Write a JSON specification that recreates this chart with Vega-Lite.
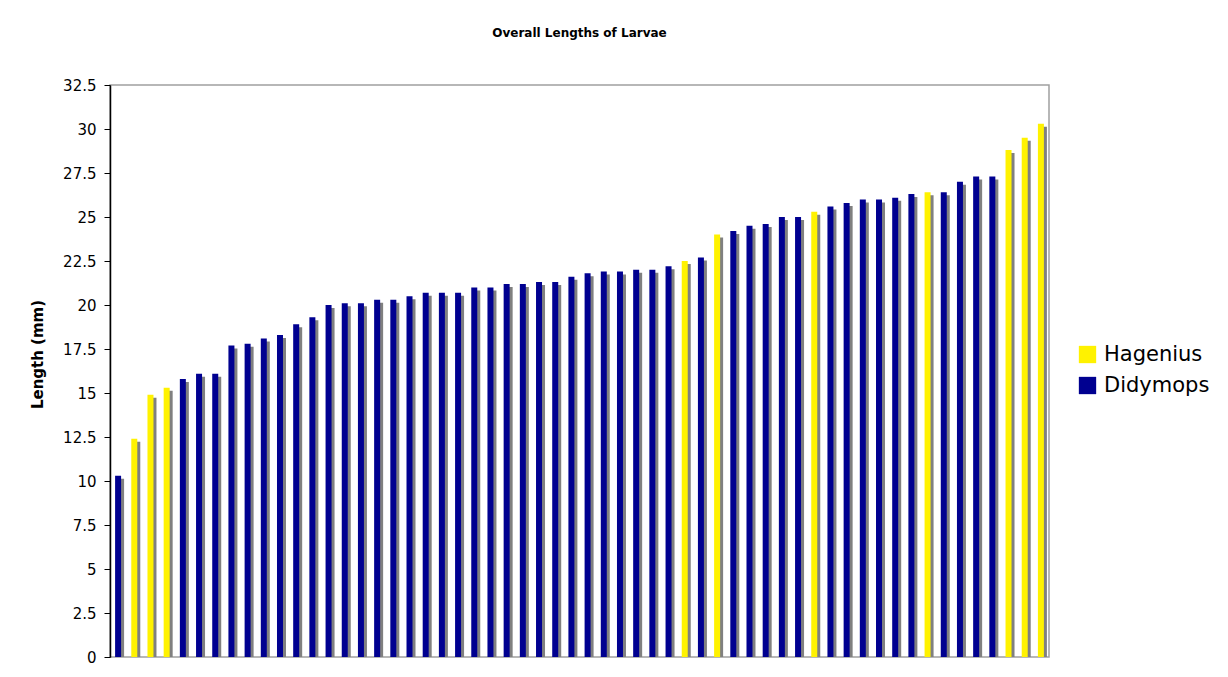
{
  "$schema": "https://vega.github.io/schema/vega-lite/v6.json",
  "autosize": {"type": "none"},
  "padding": {"left": 110, "top": 85, "right": 179, "bottom": 20},
  "width": 939,
  "height": 572,
  "background": "white",
  "title": {
    "text": "Overall Lengths of Larvae",
    "font": "DejaVu Sans",
    "fontSize": 12,
    "fontWeight": "bold",
    "color": "black",
    "anchor": "middle",
    "offset": 38
  },
  "data": {
    "values": [
      {"larva": 1, "length": 10.3, "genus": "Didymops"},
      {"larva": 2, "length": 12.4, "genus": "Hagenius"},
      {"larva": 3, "length": 14.9, "genus": "Hagenius"},
      {"larva": 4, "length": 15.3, "genus": "Hagenius"},
      {"larva": 5, "length": 15.8, "genus": "Didymops"},
      {"larva": 6, "length": 16.1, "genus": "Didymops"},
      {"larva": 7, "length": 16.1, "genus": "Didymops"},
      {"larva": 8, "length": 17.7, "genus": "Didymops"},
      {"larva": 9, "length": 17.8, "genus": "Didymops"},
      {"larva": 10, "length": 18.1, "genus": "Didymops"},
      {"larva": 11, "length": 18.3, "genus": "Didymops"},
      {"larva": 12, "length": 18.9, "genus": "Didymops"},
      {"larva": 13, "length": 19.3, "genus": "Didymops"},
      {"larva": 14, "length": 20.0, "genus": "Didymops"},
      {"larva": 15, "length": 20.1, "genus": "Didymops"},
      {"larva": 16, "length": 20.1, "genus": "Didymops"},
      {"larva": 17, "length": 20.3, "genus": "Didymops"},
      {"larva": 18, "length": 20.3, "genus": "Didymops"},
      {"larva": 19, "length": 20.5, "genus": "Didymops"},
      {"larva": 20, "length": 20.7, "genus": "Didymops"},
      {"larva": 21, "length": 20.7, "genus": "Didymops"},
      {"larva": 22, "length": 20.7, "genus": "Didymops"},
      {"larva": 23, "length": 21.0, "genus": "Didymops"},
      {"larva": 24, "length": 21.0, "genus": "Didymops"},
      {"larva": 25, "length": 21.2, "genus": "Didymops"},
      {"larva": 26, "length": 21.2, "genus": "Didymops"},
      {"larva": 27, "length": 21.3, "genus": "Didymops"},
      {"larva": 28, "length": 21.3, "genus": "Didymops"},
      {"larva": 29, "length": 21.6, "genus": "Didymops"},
      {"larva": 30, "length": 21.8, "genus": "Didymops"},
      {"larva": 31, "length": 21.9, "genus": "Didymops"},
      {"larva": 32, "length": 21.9, "genus": "Didymops"},
      {"larva": 33, "length": 22.0, "genus": "Didymops"},
      {"larva": 34, "length": 22.0, "genus": "Didymops"},
      {"larva": 35, "length": 22.2, "genus": "Didymops"},
      {"larva": 36, "length": 22.5, "genus": "Hagenius"},
      {"larva": 37, "length": 22.7, "genus": "Didymops"},
      {"larva": 38, "length": 24.0, "genus": "Hagenius"},
      {"larva": 39, "length": 24.2, "genus": "Didymops"},
      {"larva": 40, "length": 24.5, "genus": "Didymops"},
      {"larva": 41, "length": 24.6, "genus": "Didymops"},
      {"larva": 42, "length": 25.0, "genus": "Didymops"},
      {"larva": 43, "length": 25.0, "genus": "Didymops"},
      {"larva": 44, "length": 25.3, "genus": "Hagenius"},
      {"larva": 45, "length": 25.6, "genus": "Didymops"},
      {"larva": 46, "length": 25.8, "genus": "Didymops"},
      {"larva": 47, "length": 26.0, "genus": "Didymops"},
      {"larva": 48, "length": 26.0, "genus": "Didymops"},
      {"larva": 49, "length": 26.1, "genus": "Didymops"},
      {"larva": 50, "length": 26.3, "genus": "Didymops"},
      {"larva": 51, "length": 26.4, "genus": "Hagenius"},
      {"larva": 52, "length": 26.4, "genus": "Didymops"},
      {"larva": 53, "length": 27.0, "genus": "Didymops"},
      {"larva": 54, "length": 27.3, "genus": "Didymops"},
      {"larva": 55, "length": 27.3, "genus": "Didymops"},
      {"larva": 56, "length": 28.8, "genus": "Hagenius"},
      {"larva": 57, "length": 29.5, "genus": "Hagenius"},
      {"larva": 58, "length": 30.3, "genus": "Hagenius"}
    ]
  },
  "encoding": {
    "x": {
      "field": "larva",
      "type": "ordinal",
      "scale": {"paddingInner": 0, "paddingOuter": 0},
      "axis": null
    },
    "y": {
      "field": "length",
      "type": "quantitative",
      "scale": {"domain": [0, 32.5], "nice": false, "zero": true},
      "axis": {
        "title": "Length (mm)",
        "values": [0, 2.5, 5, 7.5, 10, 12.5, 15, 17.5, 20, 22.5, 25, 27.5, 30, 32.5],
        "format": ".1~f",
        "grid": false,
        "domainColor": "black",
        "domainWidth": 1.5,
        "tickColor": "black",
        "tickSize": 6,
        "tickWidth": 1,
        "labelFont": "DejaVu Sans",
        "labelFontSize": 15,
        "labelColor": "black",
        "labelPadding": 8,
        "titleFont": "DejaVu Sans",
        "titleFontSize": 15,
        "titleFontWeight": "bold",
        "titleColor": "black",
        "titleX": -73,
        "titleY": 269,
        "titleAlign": "center",
        "titleBaseline": "middle",
        "titleAngle": -90
      }
    }
  },
  "layer": [
    {
      "mark": {"type": "bar", "width": 6, "color": "#808080", "xOffset": 3, "yOffset": 3, "clip": true}
    },
    {
      "mark": {"type": "bar", "width": 6},
      "encoding": {
        "color": {
          "field": "genus",
          "type": "nominal",
          "scale": {"domain": ["Hagenius", "Didymops"], "range": ["#FFF200", "#000090"]},
          "legend": {
            "title": null,
            "orient": "none",
            "legendX": 967,
            "legendY": 259,
            "symbolType": "square",
            "symbolSize": 300,
            "symbolStrokeWidth": 0,
            "symbolOpacity": 1,
            "labelFont": "DejaVu Sans",
            "labelFontSize": 21,
            "labelColor": "black",
            "labelOffset": 6,
            "rowPadding": 9
          }
        }
      }
    }
  ],
  "config": {
    "view": {"stroke": "#a0a0a0", "strokeWidth": 1.5}
  }
}
